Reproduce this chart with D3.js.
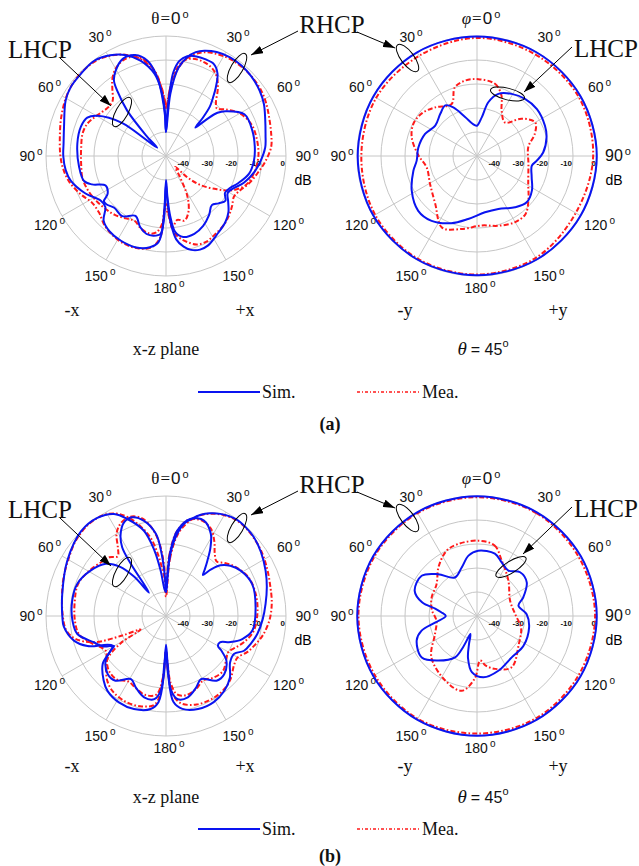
<!DOCTYPE html>
<html><head><meta charset="utf-8">
<script src="https://cdn.jsdelivr.net/npm/d3@7"></script>
<style>body{margin:0;background:#fff}</style>
</head><body>
<svg id="fig" width="639" height="866"></svg>
<script>
// ---- radiation pattern data: [angle in degrees clockwise from +z, gain in dB] ----
// (a) x-z plane
const xzA_rhcpSim = [[0,-40],[4,-24],[8,-13],[12,-8],[16,-5],[20,-3.3],[26,-1.8],[33,-1],[40,-0.9],[47,-1.4],[55,-2.4],[62,-3.8],[70,-6],[78,-7.6],[85,-8.5],[93,-10.5],[100,-12.5],[109,-15.7],[116,-19],[121,-20],[126,-18],[132,-15],[138,-13],[147,-11],[155,-8.8],[160,-8.5],[165,-9.5],[169,-11.5],[173,-15],[176,-22],[178,-30],[180,-38],[182,-26],[184,-17.5],[189,-16.4],[194,-16.5],[200,-18.5],[207,-22],[216,-19],[225,-19.5],[231,-18],[234,-18],[237,-21],[244,-22],[249,-17],[253,-14.3],[263,-13.5],[278,-12.7],[289,-12.5],[296,-13.5],[300.4,-16.8],[307,-27],[313,-45],[316,-38],[319.5,-25],[323,-16.6],[325.4,-11.8],[329.5,-8.7],[336,-5.7],[343,-6],[349,-9.6],[353.7,-17],[356.4,-25.5],[358.5,-33]];
const xzA_lhcpSim = [[0,-40],[2,-30],[3.5,-22],[5,-15],[8,-10],[12,-7.5],[17,-6.6],[22,-6.5],[27.5,-6.8],[32,-9.5],[36,-14.7],[39,-19],[41.6,-22.5],[44,-28],[46,-33],[48,-27],[50,-22],[53,-19],[62,-13],[73.6,-12.5],[84,-12.8],[93,-13.3],[102,-14.6],[111,-18],[116,-20],[122,-21],[127,-19],[132,-20.5],[137,-22],[144,-19.5],[152,-17],[160,-15.5],[168,-15.5],[173,-18],[176,-25],[178,-33],[180,-40],[182,-23],[185,-14],[190,-11.4],[198,-9.9],[208,-10],[217,-10.8],[224,-12.6],[230,-17],[236,-17],[245,-13],[255.5,-9],[262,-7.8],[270,-7.2],[277,-7],[286,-5.8],[299,-2.2],[306,-1],[314,-0.7],[323,-0.3],[331,-2],[338,-4.6],[345,-8.9],[352,-15.4],[356,-22.8],[358.5,-31]];
const xzA_rhcpMea = [[0,-30],[4,-21],[8,-13],[12,-8.5],[16,-5.8],[20,-4],[26,-2.6],[33,-1.6],[40,-1.3],[47,-1.3],[55,-1.8],[62,-2.8],[70,-4.2],[78,-5.2],[85,-6],[93,-8.5],[100,-11],[108,-13.5],[115,-16],[121,-17],[127,-15.5],[133,-14],[140,-12.5],[148,-11.5],[155,-10.5],[161,-11],[166,-13],[170,-15],[174,-18],[177,-25],[180,-30],[183,-22],[187,-18],[192,-17],[199,-18],[206,-20],[213,-19],[221,-17.5],[229,-16.5],[237,-15.5],[246,-14.5],[255,-14],[265,-14.5],[275,-14.5],[285,-14],[292,-14.5],[298,-16],[304,-17.5],[310,-18.5],[316,-18],[321,-14.5],[325,-11],[330,-8],[336,-6.3],[342,-6.5],[348,-9.5],[353,-15],[356,-21],[358.5,-27]];
const xzA_lhcpMea = [[0,-30],[3,-23],[6,-15],[10,-10],[15,-8],[22,-7.8],[28,-8.8],[33,-11],[38,-15],[43,-19.5],[47,-21],[52,-18.5],[60,-14.5],[70,-12],[80,-11.5],[90,-11.5],[100,-12.5],[110,-14.6],[118,-19.4],[123,-24.6],[130,-31],[135,-37.5],[140,-44],[146,-40],[152,-31],[158,-25],[164,-22],[170,-23],[175,-20],[178,-26],[181,-28],[184,-16],[189,-11.5],[197,-9.8],[206,-9.5],[214,-10.2],[222,-11.5],[230,-13.5],[238,-13.5],[246,-11],[255,-8.3],[263,-6.8],[270,-6],[279,-5.2],[290,-3.5],[300,-1.8],[308,-0.8],[316,-0.5],[324,-0.8],[331,-2.2],[338,-4.5],[345,-8],[351,-13],[355,-19],[358.5,-26]];

// (a) conical cut at theta = 45 deg, angle is phi
const conA_rhcpSim = [[0,-0.2],[30,-0.2],[60,-0.2],[90,-0.1],[120,-0.2],[150,-0.2],[180,-0.3],[210,-0.2],[240,-0.2],[270,-0.3],[300,-0.2],[330,-0.1]];
const conA_rhcpMea = [[0,-0.8],[30,-1.2],[60,-1],[90,-1.6],[120,-2.5],[150,-1],[180,-0.6],[210,-0.6],[240,-1],[270,-1.8],[300,-1.5],[330,-1.8]];
const conA_lhcpSim = [[0,-37.4],[7,-33.8],[12,-27],[19,-22.6],[29,-20.4],[40,-18.9],[52,-18.3],[66,-19],[75,-20],[87,-22.4],[94.5,-25],[100,-26.8],[111,-25.6],[122,-23],[133,-21.7],[143.5,-23.4],[158,-26.2],[172,-26.3],[188,-23.5],[201,-20],[215,-17],[227,-16.5],[242,-19.2],[257,-22.8],[265.6,-24.8],[278,-25.3],[293,-26.5],[306,-28.5],[319,-26.7],[328,-25.1],[334,-27.5],[343,-33],[355,-37]];
const conA_lhcpMea = [[1,-18],[14,-19],[22,-22.8],[28.5,-28.5],[40,-31.8],[50,-25.8],[60,-22],[69,-24.2],[80,-28.3],[99,-28.3],[119,-25.6],[130,-22],[140,-18.5],[150,-18.2],[163,-19.6],[176,-21],[192,-18.9],[206,-16.8],[221,-23.5],[239,-27.2],[257,-28.5],[271,-25.5],[286,-21.7],[297,-20.3],[308,-21],[319,-23.2],[334,-25.9],[342,-20],[351,-18.2]];

// (b) x-z plane
const xzB_rhcpSim = [[0,-40],[4,-24],[8,-15],[11,-11],[15,-8],[19,-5.4],[23,-3.5],[28,-1.8],[36,-0.2],[42,-0.3],[48,-0.8],[56,-2.3],[65.5,-4.4],[74,-6.3],[83,-8.2],[92,-9.7],[101,-11.2],[108,-12.8],[114,-14.4],[119,-17.5],[126,-17],[134,-13],[142,-10.5],[151,-9],[161,-9],[170,-10.7],[175,-14],[178,-26],[180,-36],[182,-30],[184,-18.8],[188,-15],[195,-14.9],[203,-17.7],[209,-19.9],[218,-15.8],[225,-15.7],[233.5,-18.7],[238,-22.8],[240,-25],[244,-21],[250,-18],[258.5,-12.3],[267,-11],[279,-10.4],[290,-10.7],[301,-13.3],[311,-16.8],[317,-22],[321,-29],[324,-38],[326,-24],[327.5,-16],[331,-11],[336,-7.2],[341,-6.5],[347,-9.3],[353,-15.5],[356,-24],[358.5,-34]];
const xzB_lhcpSim = [[0,-40],[2,-32],[4,-22.6],[7.6,-14],[14,-8.3],[21.7,-7.2],[28.6,-11],[33,-16],[36.8,-21.2],[40,-25],[42,-27],[44,-23],[47,-19],[52,-16],[58.7,-13.6],[69.7,-11.7],[84.5,-12.5],[99.6,-13.5],[106.8,-16.8],[112,-21],[116,-25],[120,-25],[122,-22.8],[126.5,-18.7],[135,-15.7],[142,-15.8],[151,-19.9],[157,-17.7],[165,-14.9],[172,-15],[176,-18.8],[178,-30],[180,-38],[182,-26],[185,-13.9],[189.4,-10.7],[199,-9],[208.6,-9],[218,-10.4],[224,-12.6],[233,-17],[241,-24.4],[249,-15],[255,-10.3],[264,-7.2],[270,-6.8],[282,-5.8],[299,-2.9],[315,0],[325,-0.1],[333,-2.3],[338.3,-6.5],[345.5,-13.3],[350,-22.3],[353.3,-31],[357,-39]];
const xzB_rhcpMea = [[0,-42],[4,-26],[8,-16],[12,-11],[16,-7.5],[20,-5],[25,-3],[30,-1.5],[36,-0.5],[42,-0.5],[48,-1],[56,-2],[65,-3.5],[74,-4.8],[83,-5.6],[92,-6.8],[101,-8.8],[108,-11],[114,-13],[120,-15.5],[126,-15],[134,-12.5],[142,-11],[151,-10.5],[161,-11],[170,-13],[175,-17],[178,-27],[180,-35],[183,-24],[187,-17],[195,-16],[203,-17.5],[210,-18.5],[218,-16.5],[226,-17],[233,-19],[240,-21],[250,-17],[258,-13],[267,-12],[279,-11.5],[290,-11],[301,-13],[310,-15],[316,-16],[321,-18],[325,-15],[329,-10],[334,-7],[340,-6],[346,-8],[351,-13],[355,-20],[358,-30]];
const xzB_lhcpMea = [[0,-36],[3,-25],[7,-15],[13,-9],[20,-7.5],[27,-9],[33,-13],[38,-17],[43,-19],[48,-17],[55,-14.5],[65,-12],[78,-11.5],[90,-12],[100,-13],[108,-15.5],[114,-18],[120,-20],[126,-19],[134,-17],[142,-17.5],[150,-19],[158,-17],[166,-16],[172,-17],[176,-22],[178,-30],[180,-36],[183,-22],[187,-13],[195,-11],[205,-10.5],[215,-11.5],[222,-13.5],[228,-16.5],[234,-20],[239,-28],[242,-38],[246,-30],[250,-18],[256,-11],[262,-8],[270,-7],[280,-6],[290,-4.5],[300,-3],[310,-1],[320,0],[328,-0.5],[334,-2.5],[339,-6],[344,-11],[349,-17],[353,-25],[357,-33]];

// (b) conical cut at theta = 45 deg
const conB_rhcpSim = [[0,-0.1],[30,-0.1],[60,-0.1],[90,-0.1],[120,-0.1],[150,-0.1],[180,-0.1],[210,-0.1],[240,-0.1],[270,-0.1],[300,-0.1],[330,-0.1]];
const conB_rhcpMea = [[0,-0.5],[30,-0.5],[60,-1],[90,-0.8],[120,-1],[150,-0.8],[180,-1],[210,-0.6],[240,-0.8],[270,-0.6],[300,-0.6],[330,-0.5]];
const conB_lhcpSim = [[1,-22.8],[16,-23],[24.7,-25.4],[34.6,-27],[44.6,-24.4],[56,-25],[68,-29.2],[76,-32.2],[88,-29.3],[102,-27.8],[122.6,-27],[140,-27.5],[158.7,-25.5],[174,-24.3],[185,-26.4],[192,-32],[196,-38],[200,-42],[204,-36],[208,-30.5],[221,-25.4],[233,-21.2],[248,-22.9],[255,-26],[261,-32.3],[270,-37],[276,-35],[280,-32.3],[284,-26.4],[292,-22],[306,-21.5],[317,-26.2],[330,-31.5],[342.5,-28.8],[352,-24.6]];
const conB_lhcpMea = [[1,-18.6],[14,-19.7],[24,-24.7],[41.6,-30.3],[65,-34.8],[88,-34],[105,-31],[124,-29],[146,-24.2],[161,-26.7],[170,-29],[176,-31.4],[182,-24],[191.6,-18.2],[206,-20],[228,-24.4],[247,-31],[263,-33],[278,-31],[292,-29.6],[308,-28.6],[322,-24],[335,-20],[345,-19]];

// ---- axes definitions ----
const ringLevels = [-40, -30, -20, -10, 0];
const spokeAngles = [0, 30, 60, 90, 120, 150, 180, 210, 240, 270, 300, 330];
const angleTickLabels = ["", "30", "60", "90", "120", "150", "180", "150", "120", "90", "60", "30"];
const legendLabels = ["Sim.", "Mea."];

const svg = d3.select("#fig");
svg.append("rect").attr("width", 639).attr("height", 866).attr("fill", "#fff");

const R = 120;
const rScale = d3.scaleLinear().domain([-50, 0]).range([0, R]).clamp(true);
const SANS = "'Liberation Sans', Arial, sans-serif";
const SERIF = "'Liberation Serif', 'Times New Roman', serif";
const BLUE = "#0a14f0";
const RED = "#ff1a1a";
const DASH = "5,2.2,1.6,2.2";

const radial = d3.lineRadial()
  .angle(d => d[0] * Math.PI / 180)
  .radius(d => rScale(d[1]))
  .curve(d3.curveCatmullRomClosed.alpha(0.5));

defsArrow();

function defsArrow() {
  const defs = svg.append("defs");
  defs.append("marker").attr("id", "ah").attr("viewBox", "0 0 12 8")
    .attr("refX", 12).attr("refY", 4).attr("markerWidth", 12).attr("markerHeight", 8)
    .attr("markerUnits", "userSpaceOnUse").attr("orient", "auto")
    .append("path").attr("d", "M0,0 L12,4 L0,8 Z").attr("fill", "#000");
}

function panel(cx, cy, curves, opts) {
  const g = svg.append("g").attr("transform", `translate(${cx},${cy})`);
  // grid rings
  g.selectAll("circle.ring").data(ringLevels).join("circle")
    .attr("r", d => rScale(d)).attr("fill", "none")
    .attr("stroke", "#c6c6c6").attr("stroke-width", 1);
  // spokes
  g.selectAll("line.spoke").data(spokeAngles).join("line")
    .attr("x1", 0).attr("y1", 0)
    .attr("x2", d => R * Math.sin(d * Math.PI / 180))
    .attr("y2", d => -R * Math.cos(d * Math.PI / 180))
    .attr("stroke", "#c6c6c6").attr("stroke-width", 1);
  // ring values
  g.selectAll("text.rv").data(ringLevels).join("text")
    .attr("x", d => rScale(d) - 1).attr("y", 10)
    .attr("text-anchor", "end").attr("font-family", SANS)
    .attr("font-size", 8).attr("font-weight", "bold").attr("fill", "#111")
    .text(d => d === 0 ? "0" : String(d));
  g.append("text").attr("x", 137).attr("y", 29).attr("text-anchor", "middle")
    .attr("font-family", SANS).attr("font-size", 14).text("dB");
  // angle labels
  spokeAngles.forEach((a, i) => {
    const lab = angleTickLabels[i];
    if (!lab) return;
    const rr = a === 180 ? 132 : 138;
    const x = rr * Math.sin(a * Math.PI / 180);
    const y = -rr * Math.cos(a * Math.PI / 180);
    const big = opts.bigRight && (a === 90);
    const t = g.append("text").attr("x", x + 3).attr("y", y + 5)
      .attr("text-anchor", "middle").attr("font-family", SANS)
      .attr("font-size", big ? 16 : 14).attr("fill", "#111");
    t.append("tspan").text(lab);
    t.append("tspan").attr("dx", 2).attr("dy", -6).attr("font-size", big ? 11 : 10).text("o");
  });
  // title at top
  const tt = g.append("text").attr("x", 4).attr("y", -R - 12)
    .attr("text-anchor", "middle").attr("font-size", 17).attr("fill", "#111");
  tt.append("tspan").attr("font-family", SERIF).attr("font-style", opts.italicTitle ? "italic" : "normal").text(opts.sym);
  tt.append("tspan").attr("font-family", SERIF).attr("dx", 1).text("=");
  tt.append("tspan").attr("font-family", SANS).attr("dx", 1).text("0");
  tt.append("tspan").attr("font-family", SANS).attr("dx", 2).attr("dy", -6).attr("font-size", 11).text("o");
  // pattern curves
  curves.forEach(c => {
    g.append("path").attr("d", radial(c.data)).attr("fill", "none")
      .attr("stroke", c.mea ? RED : BLUE)
      .attr("stroke-width", 2)
      .attr("stroke-dasharray", c.mea ? DASH : null)
      .attr("stroke-linejoin", "round");
  });
}

function ellipse(cx, cy, rx, ry, rot) {
  svg.append("ellipse").attr("cx", 0).attr("cy", 0).attr("rx", rx).attr("ry", ry)
    .attr("transform", `translate(${cx},${cy}) rotate(${rot})`)
    .attr("fill", "none").attr("stroke", "#000").attr("stroke-width", 1);
}
function arrow(x1, y1, x2, y2) {
  svg.append("line").attr("x1", x1).attr("y1", y1).attr("x2", x2).attr("y2", y2)
    .attr("stroke", "#000").attr("stroke-width", 1).attr("marker-end", "url(#ah)");
}
function word(x, y, s, size, anchor, weight) {
  svg.append("text").attr("x", x).attr("y", y).attr("text-anchor", anchor || "middle")
    .attr("font-family", SERIF).attr("font-size", size)
    .attr("font-weight", weight || "normal").attr("fill", "#111").text(s);
}

function figure(dy, xzSet, conSet, lhcpRightEll) {
  panel(166, 156 + dy, [
    { data: xzSet[2], mea: true }, { data: xzSet[3], mea: true },
    { data: xzSet[0] }, { data: xzSet[1] }], { sym: "θ", italicTitle: false });
  panel(477, 156 + dy, [
    { data: conSet[2], mea: true }, { data: conSet[3], mea: true },
    { data: conSet[0] }, { data: conSet[1] }], { sym: "φ", italicTitle: true, bigRight: true });

  // polarisation call-outs
  word(40, 58 + dy, "LHCP", 25);
  arrow(60, 58 + dy, 111, 106 + dy);
  ellipse(122, 112 + dy, 6, 16.5, 29);
  word(332, 33 + dy, "RHCP", 25);
  arrow(298, 31 + dy, 251, 55 + dy);
  ellipse(237, 68 + dy, 6, 16.5, 30);
  arrow(357, 32 + dy, 395, 48 + dy);
  ellipse(407.5, 58 + dy, 6.5, 16.5, -37);
  word(606, 57 + dy, "LHCP", 25);
  arrow(572, 47 + dy, lhcpRightEll[3], lhcpRightEll[4] + dy);
  ellipse(lhcpRightEll[0], lhcpRightEll[1] + dy, 17.5, 5.8, lhcpRightEll[2]);
}

figure(0, [xzA_rhcpSim, xzA_lhcpSim, xzA_rhcpMea, xzA_lhcpMea],
  [conA_rhcpSim, conA_lhcpSim, conA_rhcpMea, conA_lhcpMea], [507.5, 94, 14, 524, 92]);
figure(460, [xzB_rhcpSim, xzB_lhcpSim, xzB_rhcpMea, xzB_lhcpMea],
  [conB_rhcpSim, conB_lhcpSim, conB_rhcpMea, conB_lhcpMea], [511, 107, -32, 523, 94]);

// captions and legends
function captions(yAxis, yPlane, yLeg, yTag, tag) {
  word(72, yAxis, "-x", 18);
  word(245, yAxis, "+x", 18);
  word(405, yAxis, "-y", 18);
  word(558, yAxis, "+y", 18);
  word(166, yPlane, "x-z plane", 18);
  const t = svg.append("text").attr("x", 483).attr("y", yPlane).attr("text-anchor", "middle").attr("fill", "#111");
  t.append("tspan").attr("font-family", SERIF).attr("font-style", "italic").attr("font-size", 19).text("θ");
  t.append("tspan").attr("font-family", SANS).attr("font-size", 16).attr("dx", 4).text("= 45");
  t.append("tspan").attr("font-family", SANS).attr("font-size", 11).attr("dy", -8).text("o");
  svg.append("line").attr("x1", 198).attr("x2", 260).attr("y1", yLeg).attr("y2", yLeg)
    .attr("stroke", BLUE).attr("stroke-width", 2);
  word(262, yLeg + 6, legendLabels[0], 18, "start");
  svg.append("line").attr("x1", 357).attr("x2", 419).attr("y1", yLeg).attr("y2", yLeg)
    .attr("stroke", RED).attr("stroke-width", 1.6).attr("stroke-dasharray", "3,2,1,2");
  word(422, yLeg + 6, legendLabels[1], 18, "start");
  word(330, yTag, tag, 18, "middle", "bold");
}
captions(316, 355, 392, 430, "(a)");
captions(772, 803, 829, 862, "(b)");
</script>
</body></html>
